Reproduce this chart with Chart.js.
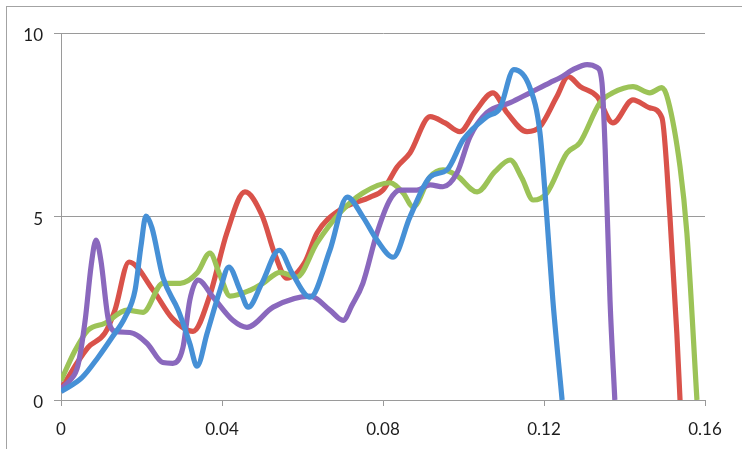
<!DOCTYPE html>
<html>
<head>
<meta charset="utf-8">
<script src="https://cdn.jsdelivr.net/npm/chart.js@4.4.0/dist/chart.umd.min.js"></script>
<style>
html, body { margin: 0; padding: 0; background: #fff; }
#wrap { position: relative; width: 742px; height: 449px; overflow: hidden; }
#frame { position: absolute; left: 6px; top: 6px; width: 800px; height: 500px; border-top: 1px solid #a3a3a3; border-left: 1px solid #a3a3a3; }
#chart { position: absolute; left: 0; top: 0; }
</style>
</head>
<body>
<div id="wrap">
  <div id="frame"></div>
  <canvas id="chart" width="742" height="449"></canvas>
</div>
<script>
// tick labels
var xTicks = [0, 0.04, 0.08, 0.12, 0.16];
var yTicks = [0, 5, 10];

// series as [x, y]
var redX = [0, 0.0067, 0.0109, 0.0134, 0.0169, 0.0229, 0.0276, 0.0328, 0.0370, 0.0412, 0.0457, 0.0499, 0.0532, 0.0561, 0.0606, 0.0636, 0.0693, 0.0768, 0.0800, 0.0835, 0.0867, 0.0917, 0.0954, 0.0991, 0.1029, 0.1073, 0.1108, 0.1158, 0.1190, 0.1232, 0.1260, 0.1290, 0.1332, 0.1371, 0.1421, 0.1463, 0.1493, 0.1513, 0.1530, 0.1538];
var redY = [0.31, 1.43, 1.82, 2.45, 3.76, 2.99, 2.23, 1.87, 2.86, 4.55, 5.67, 5.04, 3.95, 3.32, 3.76, 4.55, 5.18, 5.53, 5.72, 6.35, 6.73, 7.72, 7.55, 7.31, 7.86, 8.37, 7.83, 7.31, 7.45, 8.27, 8.81, 8.54, 8.27, 7.55, 8.18, 7.96, 7.69, 4.98, 1.82, 0];

var greenX = [0, 0.0035, 0.0067, 0.0109, 0.0164, 0.0204, 0.0253, 0.0296, 0.0338, 0.0370, 0.0395, 0.0420, 0.0470, 0.0502, 0.0544, 0.0586, 0.0636, 0.0693, 0.0750, 0.0817, 0.0850, 0.0875, 0.0917, 0.0949, 0.0984, 0.1034, 0.1078, 0.1116, 0.1145, 0.1173, 0.1207, 0.1257, 0.1289, 0.1339, 0.1371, 0.1421, 0.1463, 0.1493, 0.1508, 0.1538, 0.1555, 0.1580];
var greenY = [0.53, 1.35, 1.90, 2.09, 2.45, 2.39, 3.18, 3.18, 3.46, 4.00, 3.40, 2.83, 2.99, 3.18, 3.48, 3.35, 4.28, 5.10, 5.64, 5.92, 5.64, 5.26, 6.08, 6.27, 6.11, 5.67, 6.22, 6.54, 6.05, 5.45, 5.64, 6.73, 7.01, 8.10, 8.37, 8.54, 8.37, 8.51, 8.18, 6.35, 4.55, 0];

var purpleX = [0, 0.0022, 0.0042, 0.0060, 0.0075, 0.0087, 0.0099, 0.0117, 0.0134, 0.0171, 0.0214, 0.0253, 0.0278, 0.0303, 0.0320, 0.0340, 0.0378, 0.0427, 0.0462, 0.0527, 0.0619, 0.0668, 0.0701, 0.0723, 0.0750, 0.0785, 0.0817, 0.0842, 0.0884, 0.0917, 0.0949, 0.0984, 0.1016, 0.1058, 0.1116, 0.1165, 0.1215, 0.1240, 0.1272, 0.1307, 0.1332, 0.1344, 0.1352, 0.1364, 0.1376];
var purpleY = [0.31, 0.53, 0.94, 2.17, 3.67, 4.36, 3.81, 2.23, 1.87, 1.84, 1.54, 1.02, 1.00, 1.43, 2.72, 3.27, 2.80, 2.17, 1.98, 2.53, 2.83, 2.45, 2.17, 2.58, 3.18, 4.55, 5.45, 5.72, 5.72, 5.86, 5.81, 6.19, 7.17, 7.83, 8.10, 8.37, 8.65, 8.78, 9.00, 9.14, 9.06, 8.65, 6.82, 2.72, 0];

var blueX = [0, 0.0052, 0.0092, 0.0127, 0.0159, 0.0184, 0.0199, 0.0211, 0.0226, 0.0253, 0.0291, 0.0320, 0.0338, 0.0363, 0.0395, 0.0417, 0.0445, 0.0465, 0.0499, 0.0542, 0.0574, 0.0619, 0.0668, 0.0711, 0.0750, 0.0785, 0.0825, 0.0867, 0.0917, 0.0959, 0.0999, 0.1058, 0.1091, 0.1125, 0.1165, 0.1190, 0.1207, 0.1222, 0.1245];
var blueY = [0.23, 0.61, 1.16, 1.71, 2.25, 2.99, 4.22, 5.01, 4.69, 3.35, 2.45, 1.54, 0.92, 1.82, 2.99, 3.62, 2.99, 2.53, 3.18, 4.08, 3.46, 2.80, 4.08, 5.53, 4.99, 4.36, 3.89, 4.99, 6.08, 6.27, 7.09, 7.72, 7.96, 9.00, 8.51, 7.28, 4.99, 2.72, 0];

function toPoints(xs, ys) {
    var pts = [];
    for (var i = 0; i < xs.length; ++i) {
        pts.push({x: xs[i], y: ys[i]});
    }
    return pts;
}

function series(data, color, order) {
    return {
        data: data,
        borderColor: color,
        backgroundColor: color,
        borderWidth: 5.2,
        pointRadius: 0,
        showLine: true,
        fill: false,
        cubicInterpolationMode: 'monotone',
        order: order
    };
}

var font = { family: 'Lato, "Open Sans", sans-serif', size: 17 };

var config = {
    type: 'scatter',
    data: {
        datasets: [
            series(toPoints(redX, redY), '#d9524a', 4),
            series(toPoints(greenX, greenY), '#9cc357', 3),
            series(toPoints(purpleX, purpleY), '#8a68bd', 2),
            series(toPoints(blueX, blueY), '#4690d6', 1)
        ]
    },
    options: {
        responsive: false,
        animation: false,
        layout: { padding: { top: 33, right: 37, left: 0, bottom: 0 } },
        plugins: {
            legend: { display: false },
            tooltip: { enabled: false }
        },
        scales: {
            x: {
                type: 'linear',
                min: 0,
                max: 0.16,
                afterBuildTicks: function(scale) {
                    scale.ticks = xTicks.map(function(v) { return {value: v}; });
                },
                afterFit: function(scale) { scale.height = 49; },
                ticks: {
                    font: font,
                    color: '#1e1e1e',
                    padding: 13,
                    maxRotation: 0,
                    callback: function(v) { return String(+v.toFixed(2)); }
                },
                grid: { drawOnChartArea: false, tickLength: 6, color: '#9a9a9a' },
                border: { color: '#9a9a9a' }
            },
            y: {
                min: 0,
                max: 10,
                afterBuildTicks: function(scale) {
                    scale.ticks = yTicks.map(function(v) { return {value: v}; });
                },
                afterFit: function(scale) { scale.width = 61; },
                ticks: {
                    font: font,
                    color: '#1e1e1e',
                    padding: 11,
                    labelOffset: 3
                },
                grid: { tickLength: 7, color: '#9a9a9a' },
                border: { color: '#9a9a9a' }
            }
        }
    }
};

var chart = new Chart(document.getElementById('chart'), config);
</script>
</body>
</html>
